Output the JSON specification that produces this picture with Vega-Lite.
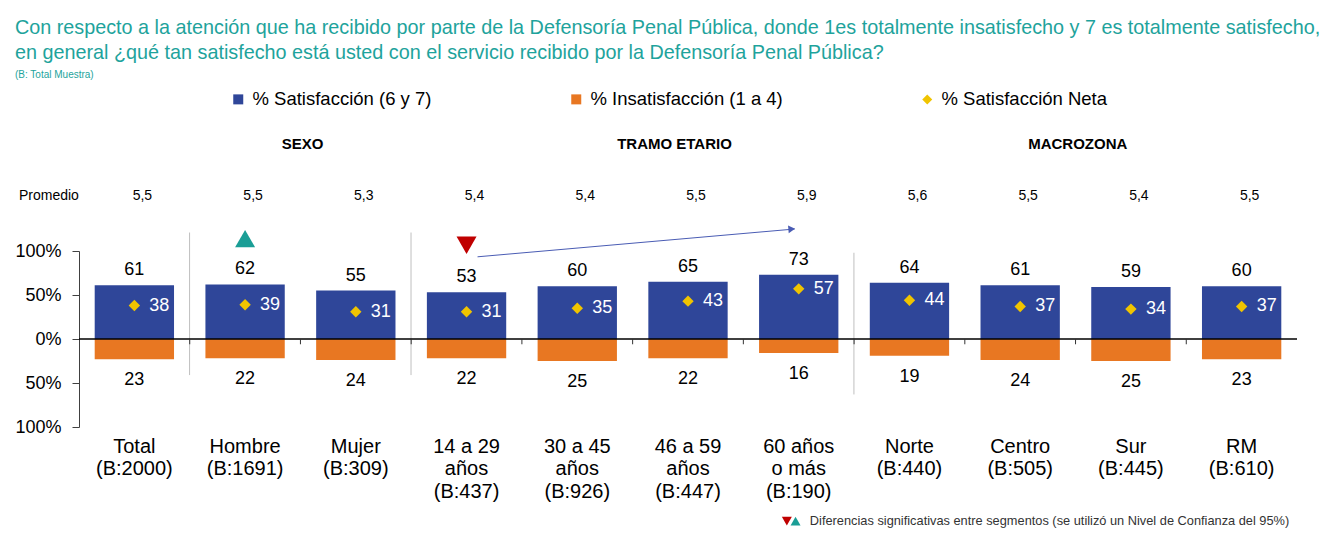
{
  "$schema": "https://vega.github.io/schema/vega-lite/v6.json",
  "width": 1218,
  "height": 176,
  "padding": {"left": 14, "top": 18, "right": 10, "bottom": 2},
  "title": {
    "text": ["Con respecto a la atención que ha recibido por parte de la Defensoría Penal Pública, donde 1es totalmente insatisfecho y 7 es totalmente satisfecho,", "en general ¿qué tan satisfecho está usted con el servicio recibido por la Defensoría Penal Pública?"],
    "subtitle": "(B: Total Muestra)",
    "anchor": "start",
    "frame": "bounds",
    "fontSize": 19.8,
    "fontWeight": "normal",
    "color": "#1EA39C",
    "lineHeight": 25,
    "subtitleFontSize": 10,
    "subtitleColor": "#1EA39C",
    "subtitlePadding": 7,
    "offset": 10
  },
  "datasets": {
    "valores": [
      {"cat": "Total|(B:2000)", "serie": "% Satisfacción (6 y 7)", "valor": 61},
      {"cat": "Hombre|(B:1691)", "serie": "% Satisfacción (6 y 7)", "valor": 62},
      {"cat": "Mujer|(B:309)", "serie": "% Satisfacción (6 y 7)", "valor": 55},
      {"cat": "14 a 29|años|(B:437)", "serie": "% Satisfacción (6 y 7)", "valor": 53},
      {"cat": "30 a 45|años|(B:926)", "serie": "% Satisfacción (6 y 7)", "valor": 60},
      {"cat": "46 a 59|años|(B:447)", "serie": "% Satisfacción (6 y 7)", "valor": 65},
      {"cat": "60 años|o más|(B:190)", "serie": "% Satisfacción (6 y 7)", "valor": 73},
      {"cat": "Norte|(B:440)", "serie": "% Satisfacción (6 y 7)", "valor": 64},
      {"cat": "Centro|(B:505)", "serie": "% Satisfacción (6 y 7)", "valor": 61},
      {"cat": "Sur|(B:445)", "serie": "% Satisfacción (6 y 7)", "valor": 59},
      {"cat": "RM|(B:610)", "serie": "% Satisfacción (6 y 7)", "valor": 60},
      {"cat": "Total|(B:2000)", "serie": "% Insatisfacción (1 a 4)", "valor": 23},
      {"cat": "Hombre|(B:1691)", "serie": "% Insatisfacción (1 a 4)", "valor": 22},
      {"cat": "Mujer|(B:309)", "serie": "% Insatisfacción (1 a 4)", "valor": 24},
      {"cat": "14 a 29|años|(B:437)", "serie": "% Insatisfacción (1 a 4)", "valor": 22},
      {"cat": "30 a 45|años|(B:926)", "serie": "% Insatisfacción (1 a 4)", "valor": 25},
      {"cat": "46 a 59|años|(B:447)", "serie": "% Insatisfacción (1 a 4)", "valor": 22},
      {"cat": "60 años|o más|(B:190)", "serie": "% Insatisfacción (1 a 4)", "valor": 16},
      {"cat": "Norte|(B:440)", "serie": "% Insatisfacción (1 a 4)", "valor": 19},
      {"cat": "Centro|(B:505)", "serie": "% Insatisfacción (1 a 4)", "valor": 24},
      {"cat": "Sur|(B:445)", "serie": "% Insatisfacción (1 a 4)", "valor": 25},
      {"cat": "RM|(B:610)", "serie": "% Insatisfacción (1 a 4)", "valor": 23},
      {"cat": "Total|(B:2000)", "serie": "% Satisfacción Neta", "valor": 38},
      {"cat": "Hombre|(B:1691)", "serie": "% Satisfacción Neta", "valor": 39},
      {"cat": "Mujer|(B:309)", "serie": "% Satisfacción Neta", "valor": 31},
      {"cat": "14 a 29|años|(B:437)", "serie": "% Satisfacción Neta", "valor": 31},
      {"cat": "30 a 45|años|(B:926)", "serie": "% Satisfacción Neta", "valor": 35},
      {"cat": "46 a 59|años|(B:447)", "serie": "% Satisfacción Neta", "valor": 43},
      {"cat": "60 años|o más|(B:190)", "serie": "% Satisfacción Neta", "valor": 57},
      {"cat": "Norte|(B:440)", "serie": "% Satisfacción Neta", "valor": 44},
      {"cat": "Centro|(B:505)", "serie": "% Satisfacción Neta", "valor": 37},
      {"cat": "Sur|(B:445)", "serie": "% Satisfacción Neta", "valor": 34},
      {"cat": "RM|(B:610)", "serie": "% Satisfacción Neta", "valor": 37}
    ],
    "promedio": [
      {"cat": "Total|(B:2000)", "prom": 5.5},
      {"cat": "Hombre|(B:1691)", "prom": 5.5},
      {"cat": "Mujer|(B:309)", "prom": 5.3},
      {"cat": "14 a 29|años|(B:437)", "prom": 5.4},
      {"cat": "30 a 45|años|(B:926)", "prom": 5.4},
      {"cat": "46 a 59|años|(B:447)", "prom": 5.5},
      {"cat": "60 años|o más|(B:190)", "prom": 5.9},
      {"cat": "Norte|(B:440)", "prom": 5.6},
      {"cat": "Centro|(B:505)", "prom": 5.5},
      {"cat": "Sur|(B:445)", "prom": 5.4},
      {"cat": "RM|(B:610)", "prom": 5.5}
    ]
  },
  "layer": [
    {
      "layer": [
        {
          "data": {"name": "valores"},
          "transform": [{"filter": {"field": "serie", "equal": "% Satisfacción (6 y 7)"}}],
          "mark": {"type": "bar"},
          "encoding": {
            "x": {
              "field": "cat", "type": "nominal", "sort": null,
              "scale": {
                "domain": ["Total|(B:2000)", "Hombre|(B:1691)", "Mujer|(B:309)", "14 a 29|años|(B:437)", "30 a 45|años|(B:926)", "46 a 59|años|(B:447)", "60 años|o más|(B:190)", "Norte|(B:440)", "Centro|(B:505)", "Sur|(B:445)", "RM|(B:610)"],
                "paddingInner": 0.2836, "paddingOuter": 0.1418
              },
              "axis": {"title": null, "labelExpr": "split(datum.label, '|')", "labelAngle": 0, "ticks": false, "domain": false}
            },
            "y": {
              "field": "valor", "type": "quantitative",
              "scale": {"domain": [-100, 100], "nice": false},
              "axis": {"title": null, "values": [-100, -50, 0, 50, 100], "labelExpr": "abs(datum.value) + '%'", "grid": false, "domainColor": "#404040", "tickColor": "#404040", "tickSize": 7, "labelPadding": 11, "labelFontSize": 18, "labelColor": "#000000"}
            },
            "y2": {"datum": 0},
            "color": {
              "field": "serie", "type": "nominal",
              "scale": {"domain": ["% Satisfacción (6 y 7)", "% Insatisfacción (1 a 4)", "% Satisfacción Neta"], "range": ["#2F4699", "#E87722", "#F0C400"]},
              "legend": {"title": " ", "titleOrient": "right", "titlePadding": 40, "orient": "top", "direction": "horizontal", "columnPadding": 135, "labelFontSize": 18.5, "labelColor": "#000000", "symbolSize": 100, "labelOffset": 5, "offset": 142, "labelLimit": 400}
            }
          }
        },
        {
          "data": {"name": "valores"},
          "transform": [{"filter": {"field": "serie", "equal": "% Satisfacción (6 y 7)"}}],
          "mark": {"type": "text", "fontSize": 18, "color": "#000000", "baseline": "middle", "dy": -15},
          "encoding": {
            "x": {"field": "cat", "type": "nominal"},
            "y": {"field": "valor", "type": "quantitative", "scale": {"domain": [-100, 100], "nice": false}},
            "text": {"field": "valor", "type": "quantitative"}
          }
        },
        {
          "data": {"name": "valores"},
          "transform": [{"filter": {"field": "serie", "equal": "% Satisfacción Neta"}}],
          "mark": {"type": "point", "filled": true, "size": 130, "opacity": 1},
          "encoding": {
            "x": {"field": "cat", "type": "nominal"},
            "y": {"field": "valor", "type": "quantitative", "scale": {"domain": [-100, 100], "nice": false}},
            "color": {"field": "serie", "type": "nominal"},
            "shape": {
              "field": "serie", "type": "nominal",
              "scale": {"domain": ["% Satisfacción (6 y 7)", "% Insatisfacción (1 a 4)", "% Satisfacción Neta"], "range": ["square", "square", "diamond"]},
              "legend": {"title": " ", "titleOrient": "right", "titlePadding": 40, "orient": "top", "direction": "horizontal", "columnPadding": 135, "labelFontSize": 18.5, "labelColor": "#000000", "symbolSize": 100, "labelOffset": 5, "offset": 142, "labelLimit": 400}
            }
          }
        },
        {
          "data": {"name": "valores"},
          "transform": [{"filter": {"field": "serie", "equal": "% Satisfacción Neta"}}],
          "mark": {"type": "text", "fontSize": 18, "color": "#FFFFFF", "align": "left", "baseline": "middle", "dx": 15},
          "encoding": {
            "x": {"field": "cat", "type": "nominal"},
            "y": {"field": "valor", "type": "quantitative", "scale": {"domain": [-100, 100], "nice": false}},
            "text": {"field": "valor", "type": "quantitative"}
          }
        },
        {
          "data": {"values": [{"cat": "Hombre|(B:1691)"}, {"cat": "14 a 29|años|(B:437)"}]},
          "mark": {"type": "rule", "color": "#BFBFBF", "strokeWidth": 1},
          "encoding": {
            "x": {"field": "cat", "type": "nominal", "bandPosition": -0.2},
            "y": {"datum": 121, "scale": {"domain": [-100, 100], "nice": false}},
            "y2": {"datum": -41}
          }
        },
        {
          "data": {"values": [{"cat": "Norte|(B:440)"}]},
          "mark": {"type": "rule", "color": "#BFBFBF", "strokeWidth": 1},
          "encoding": {
            "x": {"field": "cat", "type": "nominal", "bandPosition": -0.2},
            "y": {"datum": 98, "scale": {"domain": [-100, 100], "nice": false}},
            "y2": {"datum": -63}
          }
        },
        {
          "data": {"values": [{"cat": "Hombre|(B:1691)"}]},
          "mark": {"type": "point", "shape": "triangle-up", "filled": true, "size": 400, "color": "#1A9E96", "opacity": 1},
          "encoding": {
            "x": {"field": "cat", "type": "nominal"},
            "y": {"datum": 114, "scale": {"domain": [-100, 100], "nice": false}}
          }
        },
        {
          "data": {"values": [{"cat": "14 a 29|años|(B:437)"}]},
          "mark": {"type": "point", "shape": "triangle-down", "filled": true, "size": 400, "color": "#C00000", "opacity": 1},
          "encoding": {
            "x": {"field": "cat", "type": "nominal"},
            "y": {"datum": 106.5, "scale": {"domain": [-100, 100], "nice": false}}
          }
        },
        {
          "data": {"values": [{"desde": "14 a 29|años|(B:437)", "hasta": "60 años|o más|(B:190)"}]},
          "mark": {"type": "rule", "color": "#4A5CB4", "strokeWidth": 1, "xOffset": 11, "x2Offset": -4},
          "encoding": {
            "x": {"field": "desde", "type": "nominal"},
            "x2": {"field": "hasta"},
            "y": {"datum": 93.4, "scale": {"domain": [-100, 100], "nice": false}},
            "y2": {"datum": 125}
          }
        },
        {
          "data": {"values": [{"hasta": "60 años|o más|(B:190)"}]},
          "mark": {"type": "point", "shape": "triangle-right", "filled": true, "size": 60, "angle": 355, "color": "#4A5CB4", "opacity": 1, "xOffset": -7},
          "encoding": {
            "x": {"field": "hasta", "type": "nominal"},
            "y": {"datum": 125, "scale": {"domain": [-100, 100], "nice": false}}
          }
        },
        {
          "data": {"values": [{"grupo": "SEXO", "cat": "Mujer|(B:309)"}, {"grupo": "MACROZONA", "cat": "Sur|(B:445)"}]},
          "mark": {"type": "text", "fontSize": 15, "fontWeight": "bold", "color": "#000000", "baseline": "middle"},
          "encoding": {
            "x": {"field": "cat", "type": "nominal", "bandPosition": -0.17},
            "y": {"datum": 222, "scale": {"domain": [-100, 100], "nice": false}},
            "text": {"field": "grupo", "type": "nominal"}
          }
        },
        {
          "data": {"values": [{"grupo": "TRAMO ETARIO", "cat": "46 a 59|años|(B:447)"}]},
          "mark": {"type": "text", "fontSize": 15, "fontWeight": "bold", "color": "#000000", "baseline": "middle"},
          "encoding": {
            "x": {"field": "cat", "type": "nominal", "bandPosition": 0.33},
            "y": {"datum": 222, "scale": {"domain": [-100, 100], "nice": false}},
            "text": {"field": "grupo", "type": "nominal"}
          }
        },
        {
          "data": {"values": [{"cat": "Total|(B:2000)", "texto": "Promedio"}]},
          "mark": {"type": "text", "fontSize": 14, "color": "#000000", "align": "left", "baseline": "middle"},
          "encoding": {
            "x": {"field": "cat", "type": "nominal", "bandPosition": -0.955},
            "y": {"datum": 163, "scale": {"domain": [-100, 100], "nice": false}},
            "text": {"field": "texto", "type": "nominal"}
          }
        },
        {
          "data": {"name": "promedio"},
          "mark": {"type": "text", "fontSize": 14, "color": "#000000", "baseline": "middle", "dx": 8},
          "encoding": {
            "x": {"field": "cat", "type": "nominal"},
            "y": {"datum": 163, "scale": {"domain": [-100, 100], "nice": false}},
            "text": {"field": "prom", "type": "quantitative", "format": ".1f"}
          }
        },
        {
          "data": {"values": [{"cat": "60 años|o más|(B:190)", "texto": "Diferencias significativas entre segmentos (se utilizó un Nivel de Confianza del 95%)"}]},
          "mark": {"type": "text", "fontSize": 12.8, "color": "#333333", "align": "left", "baseline": "middle"},
          "encoding": {
            "x": {"field": "cat", "type": "nominal", "bandPosition": 0.64},
            "y": {"datum": -207, "scale": {"domain": [-100, 100], "nice": false}},
            "text": {"field": "texto", "type": "nominal"}
          }
        },
        {
          "data": {"values": [{"cat": "60 años|o más|(B:190)"}]},
          "mark": {"type": "point", "shape": "triangle-down", "filled": true, "size": 100, "color": "#C00000", "opacity": 1},
          "encoding": {
            "x": {"field": "cat", "type": "nominal", "bandPosition": 0.35},
            "y": {"datum": -207, "scale": {"domain": [-100, 100], "nice": false}}
          }
        },
        {
          "data": {"values": [{"cat": "60 años|o más|(B:190)"}]},
          "mark": {"type": "point", "shape": "triangle-up", "filled": true, "size": 100, "color": "#1A9E96", "opacity": 1},
          "encoding": {
            "x": {"field": "cat", "type": "nominal", "bandPosition": 0.46},
            "y": {"datum": -207, "scale": {"domain": [-100, 100], "nice": false}}
          }
        }
      ]
    },
    {
      "layer": [
        {
          "data": {"name": "valores"},
          "transform": [{"filter": {"field": "serie", "equal": "% Insatisfacción (1 a 4)"}}],
          "mark": {"type": "bar"},
          "encoding": {
            "x": {"field": "cat", "type": "nominal", "sort": null},
            "y": {"field": "valor", "type": "quantitative", "scale": {"domain": [-100, 100], "nice": false, "reverse": true}, "axis": null},
            "y2": {"datum": 0},
            "color": {"field": "serie", "type": "nominal"}
          }
        },
        {
          "data": {"name": "valores"},
          "transform": [{"filter": {"field": "serie", "equal": "% Insatisfacción (1 a 4)"}}],
          "mark": {"type": "text", "fontSize": 18, "color": "#000000", "baseline": "middle", "dy": 21},
          "encoding": {
            "x": {"field": "cat", "type": "nominal"},
            "y": {"field": "valor", "type": "quantitative", "scale": {"domain": [-100, 100], "nice": false, "reverse": true}, "axis": null},
            "text": {"field": "valor", "type": "quantitative"}
          }
        },
        {
          "data": {"values": [{}]},
          "mark": {"type": "rule", "color": "#000000", "strokeWidth": 1.4},
          "encoding": {
            "y": {"datum": 0, "scale": {"domain": [-100, 100], "nice": false, "reverse": true}, "axis": null}
          }
        },
        {
          "data": {"name": "valores"},
          "transform": [{"filter": {"field": "serie", "equal": "% Satisfacción (6 y 7)"}}, {"filter": {"not": {"field": "cat", "equal": "Total|(B:2000)"}}}],
          "mark": {"type": "rule", "color": "#333333", "strokeWidth": 1},
          "encoding": {
            "x": {"field": "cat", "type": "nominal", "bandPosition": -0.198},
            "y": {"datum": 0, "scale": {"domain": [-100, 100], "nice": false, "reverse": true}, "axis": null},
            "y2": {"datum": 6}
          }
        }
      ]
    }
  ],
  "resolve": {"scale": {"y": "independent"}},
  "config": {
    "font": "Liberation Sans",
    "view": {"stroke": null},
    "axisX": {"labelFontSize": 20, "labelColor": "#000000", "labelLineHeight": 22.5, "labelPadding": 9, "ticks": false, "domain": false, "labelAngle": 0, "title": null, "labelLimit": 0},
    "legend": {"layout": {"top": {"anchor": "middle"}}},
    "locale": {"number": {"decimal": ",", "thousands": ".", "grouping": [3], "currency": ["$", ""]}}
  }
}
